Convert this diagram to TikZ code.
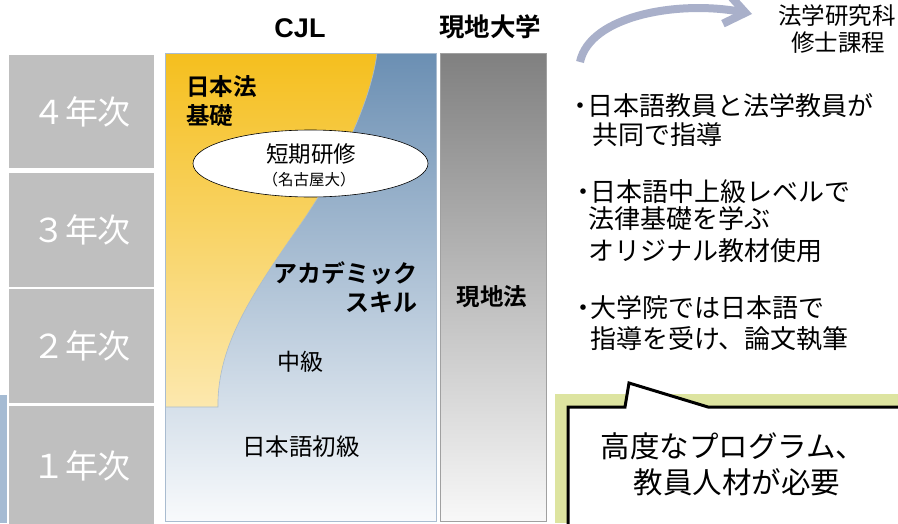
\documentclass[tikz,border=0pt]{standalone}
\usepackage{fontspec}
\setmainfont{Noto Sans CJK JP}[BoldFont={Noto Sans CJK JP Bold}]
\newfontfamily\latinsans{Liberation Sans}
\usetikzlibrary{arrows.meta,shapes.geometric}
\definecolor{yeargray}{HTML}{BFBFBF}
\definecolor{stripblue}{HTML}{A5BBD3}
\definecolor{cjltop}{HTML}{6B8FB3}
\definecolor{cjlbot}{HTML}{F8FAFC}
\definecolor{cjlborder}{HTML}{A9BCD0}
\definecolor{lawtop}{HTML}{F5BF1E}
\definecolor{lawbot}{HTML}{FCE8AE}
\definecolor{localtop}{HTML}{808080}
\definecolor{localbot}{HTML}{F8F8F8}
\definecolor{localborder}{HTML}{A0A0A0}
\definecolor{arrowblue}{HTML}{A9B0CA}
\definecolor{calloutbg}{HTML}{DDE4A0}
\begin{document}
\begin{tikzpicture}[x=1pt,y=-1pt,
  yearbox/.style={fill=yeargray, inner sep=0pt, text=white, font=\fontsize{33}{33}\selectfont, minimum width=145pt},
  lbl/.style={inner sep=0pt, font=\fontsize{23}{23}\selectfont},
  boldlbl/.style={inner sep=0pt, font=\fontsize{23.5}{23.5}\selectfont\bfseries},
  bullet/.style={inner sep=0pt, anchor=west, font=\fontsize{26}{26}\selectfont},
  column/.style={inner sep=0pt, anchor=north west, minimum height=468pt},
]
\useasboundingbox (0,0) rectangle (898,523);
\fill[white] (0,0) rectangle (898,523);

% year boxes
\node[yearbox, minimum height=113pt] (y4) at (81.5,111.5) {４年次};
\node[yearbox, minimum height=114pt] (y3) at (81.5,230) {３年次};
\node[yearbox, minimum height=114pt] (y2) at (81.5,346) {２年次};
\node[yearbox, minimum height=119pt] (y1) at (81.5,465.5) {１年次};
\fill[stripblue] (0,395) rectangle (7,523);

% CJL column
\node[column, minimum width=271pt, top color=cjltop, bottom color=cjlbot] (cjl) at (165,53) {};
\shade[top color=lawtop, bottom color=lawbot] (165,53) -- (377,53)
  .. controls (372,95) and (345,160) .. (300,225)
  .. controls (255,290) and (220,340) .. (218,400) -- (218,407) -- (165,407) -- cycle;
\draw[cjlborder, line width=0.6pt] (377,53)
  .. controls (372,95) and (345,160) .. (300,225)
  .. controls (255,290) and (220,340) .. (218,400) -- (218,407) -- (165,407);
\draw[cjlborder, line width=1pt] (cjl.north west) rectangle (cjl.south east);

\node[ellipse, draw, fill=white, line width=0.6pt, minimum width=235pt, minimum height=67pt, inner sep=0pt] (tanki) at (310.5,163.5) {};
\node[inner sep=0pt, font=\fontsize{22.5}{22.5}\selectfont] (tankit) at (311,154) {短期研修};
\node[inner sep=0pt, font=\fontsize{15.5}{15.5}\selectfont] (nagoya) at (309,180) {（名古屋大）};

\node[boldlbl, anchor=west] (jlaw1) at (186,87) {日本法};
\node[boldlbl, anchor=west] (jlaw2) at (186,116) {基礎};
\node[boldlbl, font=\fontsize{24}{24}\selectfont\bfseries, anchor=east] (acad1) at (418,273) {アカデミック};
\node[boldlbl, font=\fontsize{24}{24}\selectfont\bfseries, anchor=east] (acad2) at (418,302) {スキル};
\node[lbl] (mid) at (300,362) {中級};
\node[lbl, font=\fontsize{23.5}{23.5}\selectfont] (beg) at (301,447) {日本語初級};

% local university column
\node[column, minimum width=106pt, draw=localborder, top color=localtop, bottom color=localbot] (local) at (440,53) {};
\node[boldlbl] (llaw) at (492,297) {現地法};

% headers
\node[inner sep=0pt, font=\latinsans\bfseries\fontsize{27}{27}\selectfont] (cjlh) at (300,28) {CJL};
\node[inner sep=0pt, font=\bfseries\fontsize{25.5}{25.5}\selectfont] (uni) at (490,27) {現地大学};

% graduate school
\node[lbl, font=\fontsize{23.5}{23.5}\selectfont] (grad1) at (837,16) {法学研究科};
\node[lbl, font=\fontsize{23.5}{23.5}\selectfont] (grad2) at (838,43) {修士課程};
\coordinate (astart) at (580,62);
\coordinate (aend) at (752,14);
\draw[arrowblue, line width=8pt, -{Straight Barb[length=20pt,width=30pt]}] (astart) .. controls (590,15) and (680,0) .. (aend);

% bullets
\node[bullet] (b1a) at (587,106) {\llap{\makebox[14pt]{・}}日本語教員と法学教員が};
\node[bullet] (b1b) at (592,135) {共同で指導};
\node[bullet] (b2a) at (590,192) {\llap{\makebox[14pt]{・}}日本語中上級レベルで};
\node[bullet] (b2b) at (588,219) {法律基礎を学ぶ};
\node[bullet] (b2c) at (588,251) {オリジナル教材使用};
\node[bullet] (b3a) at (590,308) {\llap{\makebox[14pt]{・}}大学院では日本語で};
\node[bullet] (b3b) at (590,339) {指導を受け、論文執筆};

% callout
\fill[calloutbg] (555,394) rectangle (898,523);
\draw[line width=3pt, fill=white] (568,530) -- (568,407) -- (625,407) -- (629,383) -- (708,407) -- (905,407) -- (905,530) -- cycle;
\node[inner sep=0pt, font=\fontsize{29.5}{29.5}\selectfont] (need1) at (733,446) {高度なプログラム、};
\node[inner sep=0pt, font=\fontsize{29.5}{29.5}\selectfont] (need2) at (737,482) {教員人材が必要};
\end{tikzpicture}
\end{document}
